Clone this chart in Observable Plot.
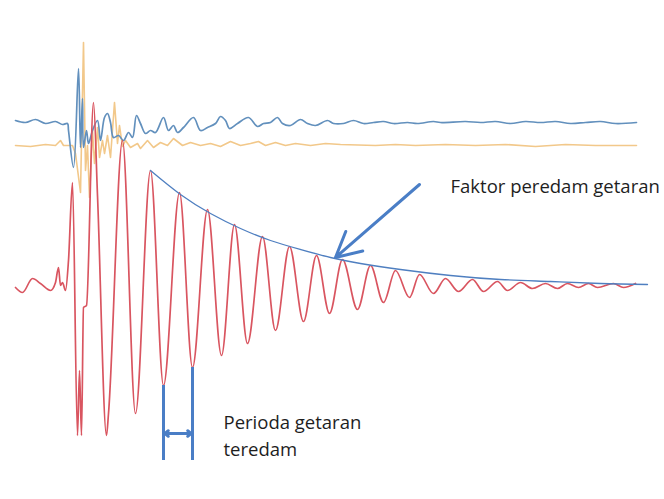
<!DOCTYPE html>
<html><head><meta charset="utf-8">
<script src="https://cdn.jsdelivr.net/npm/d3@7"></script>
<script src="https://cdn.jsdelivr.net/npm/@observablehq/plot@0.6"></script>
<style>body{margin:0;background:#fff}</style>
</head><body><div id="chart"></div>
<script>
// time in 10 ms ticks, amplitude in counts
const redT = [0,7,17,25,35,40,43,45,47,50,53,57,62,64,66,68,71,78,82,91,93,107,120,135,148,164,177,192,206,219,232,247,260,274,288,301,314,327,342,355,368,380,394,404,418,430,443,457,468,482,492,505,517,530,542,552,563,573,582,598,608,620];
const redA = [0,-5,9,4,-3,5,20,2,5,-3,27,105,-148,-83,-148,-20,-18,185,92,-148,-126,147,-126,117,-98,95,-80,78,-68,63,-56,51,-43,41,-34,32,-26,28,-22,22,-15,17,-10,13,-6,9,-4,8,-4,6,-3,5,-1,4,-1,4,0,4,0,4,0,4];

const blueT = [0,10,20,30,40,47,52,53,58,63,65,67,68,71,73,77,82,85,89,92,95,98,103,108,113,117,121,125,130,135,140,148,153,158,162,168,178,185,192,200,205,210,214,222,233,242,248,255,262,267,275,285,292,300,312,318,328,338,348,358,368,378,392,402,418,425,450,465,480,495,510,525,540,555,570,585,600,621];
const blueA = [2,0,3,-1,1,-2,-1,-8,-45,54,-25,24,-25,-8,-21,-8,2,-18,5,9,0,-15,-13,-18,-10,-15,7,-1,-11,-8,-10,5,-8,-3,-10,-5,5,-8,-5,-1,6,2,-6,-1,5,-4,-1,0,5,-1,-3,3,-1,-3,2,-1,-1,2,-1,0,1,-1,0,-1,1,0,1,0,1,-1,1,0,1,-1,0,1,-1,0];

const orangeT = [0,15,30,40,45,48,57,60,65,68,70,72,74,77,79,82,84,87,89,92,95,99,102,104,107,110,115,122,125,132,138,145,152,158,167,175,185,195,205,215,225,235,243,250,260,270,280,295,310,325,360,380,400,430,460,490,520,550,580,621];
const orangeA = [0,-1,1,0,5,0,0,-8,-47,103,-25,0,-52,15,-18,18,-12,5,-8,10,-12,43,2,20,-1,5,-2,2,-3,5,-2,3,0,7,0,3,0,2,-1,4,0,2,4,0,3,0,2,0,2,1,0,1,0,1,0,1,-1,1,0,0];

// read-off envelope (damping factor curve)
const envT = [135,165,195,225,255,285,315,345,385,435,485,535,585,632];
const envA = [117,93,74,59,47,38,30,24,18,12,8,6,4,3];

const periodTroughs = [148, 177];

const red = d3.zip(redT, redA).map(([t,a]) => ({t, a}));
const blue = d3.zip(blueT, blueA).map(([t,a]) => ({t, a}));
const orange = d3.zip(orangeT, orangeA).map(([t,a]) => ({t, a}));
const env = d3.zip(envT, envA).map(([t,a]) => ({t, a}));

const BLUE_OFFSET = 165, ORANGE_OFFSET = 142;
const BOTTOM = -173, DOUBLE_ARROW_Y = -146;
const markers = periodTroughs.map(t => ({t, a: redA[redT.indexOf(t)]}));
const mid = (periodTroughs[0] + periodTroughs[1]) / 2;

const ARROW = "#4a7ec6";
const font = "'Open Sans', sans-serif";

const chart = Plot.plot({
  width: 664, height: 499,
  margin: 0,
  x: {domain: [-15, 649], axis: null},
  y: {domain: [-212, 287], axis: null},
  style: {background: "#fff", overflow: "visible"},
  marks: [
    Plot.line(orange, {x: "t", y: d => d.a + ORANGE_OFFSET, stroke: "#f2c88a", strokeWidth: 1.6}),
    Plot.line(blue, {x: "t", y: d => d.a + BLUE_OFFSET, stroke: "#6290bd", strokeWidth: 1.7, curve: "catmull-rom"}),
    Plot.line(red, {x: "t", y: "a", stroke: "#d95560", strokeWidth: 1.7, curve: "monotone-x"}),
    Plot.line(env, {x: "t", y: "a", stroke: "#4f7fc0", strokeWidth: 1.3, curve: "natural"}),
    Plot.ruleX(markers, {x: "t", y1: "a", y2: BOTTOM, stroke: ARROW, strokeWidth: 3}),
    Plot.arrow([periodTroughs[0] + 1.5, periodTroughs[1] - 1.5], {x1: mid, x2: d => d, y1: DOUBLE_ARROW_Y, y2: DOUBLE_ARROW_Y, stroke: ARROW, strokeWidth: 3, headLength: 9, headAngle: 80}),
    Plot.arrow([{t1: 404, a1: 103, t2: 320, a2: 30}], {x1: "t1", y1: "a1", x2: "t2", y2: "a2", stroke: ARROW, strokeWidth: 3, headLength: 14, headAngle: 55}),
    Plot.text(["Faktor peredam getaran"], {x: 435, y: 100, text: d => d, textAnchor: "start", fontSize: 18.5, fontFamily: font, fill: "#1e1e1e"}),
    Plot.text(["Perioda getaran", "teredam"], {x: 208, y: (d, i) => [-136, -163][i], text: d => d, textAnchor: "start", fontSize: 18.5, fontFamily: font, fill: "#1e1e1e"})
  ]
});
document.getElementById("chart").append(chart);
</script>
</body></html>
